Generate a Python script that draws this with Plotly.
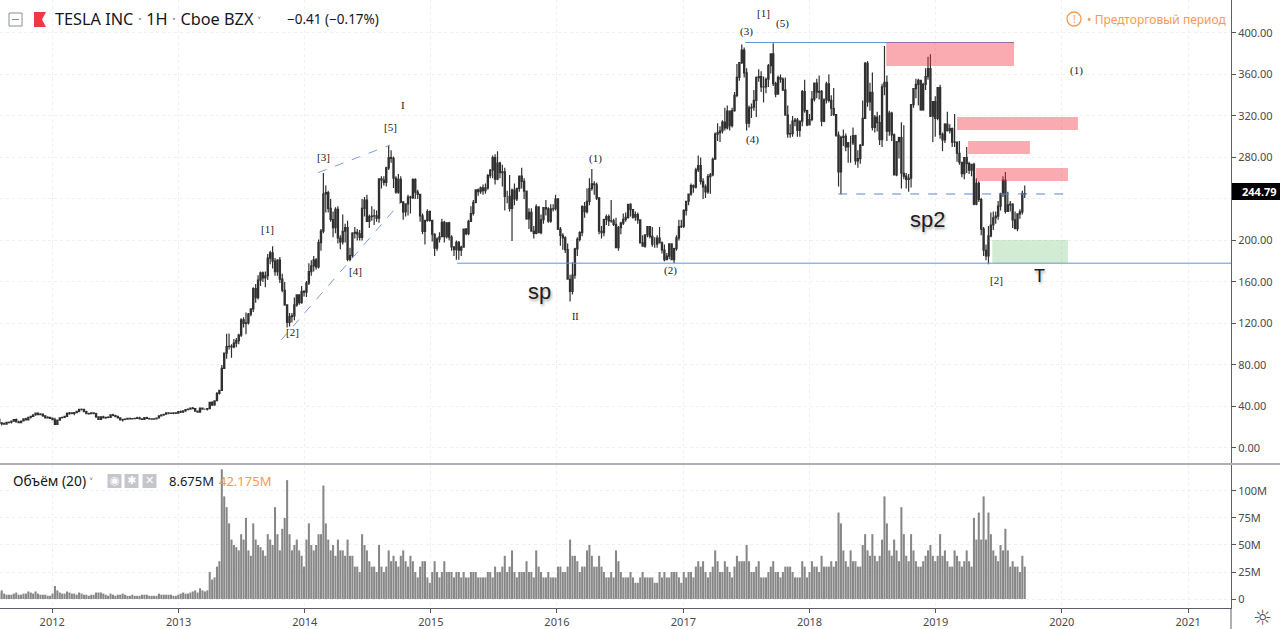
import plotly.graph_objects as go
import pandas as pd

# ---------------- DATA (weekly bars) ----------------
open_px = [
    # 2011
    27.5,24.0,23.5,23.0,24.6,24.8,25.8,27.3,25.0,24.4,26.0,28.0,27.1,29.6,30.5,32.0,33.6,32.0,32.6,31.0,29.0,29.5,
    # 2012
    28.6,27.2,22.8,26.7,29.1,29.5,30.5,33.0,33.8,33.2,34.0,35.3,37.2,37.3,35.0,33.1,33.0,33.8,33.2,30.0,27.6,30.0,29.0,29.6,29.4,32.0,31.3,30.5,29.0,27.0,27.6,27.8,28.6,28.0,28.2,28.5,29.0,28.0,27.6,29.3,28.4,28.0,27.7,28.1,28.9,31.0,31.8,32.5,33.8,33.5,33.3,33.9,33.5,
    # 2013
    35.0,34.5,35.7,37.0,37.5,38.5,38.0,35.6,34.6,38.5,37.3,37.3,37.9,43.9,41.5,45.5,52.5,55.5,76.8,91.5,97.8,98.0,97.5,101.0,103.5,108.7,123.5,120.0,120.5,129.0,134.0,153.5,145.0,161.8,168.8,164.0,166.0,183.0,188.0,180.0,170.0,181.0,162.8,152.0,137.9,121.0,126.5,127.3,138.0,147.7,140.0,151.0,
    # 2014
    150.1,159.0,170.0,175.6,181.4,174.6,198.0,209.0,244.8,246.2,230.9,220.2,212.4,230.0,202.4,198.7,208.9,212.3,181.8,185.5,207.0,207.8,206.4,203.0,231.0,239.0,218.5,223.0,223.6,223.7,221.5,259.3,258.3,256.0,270.0,280.0,279.2,260.0,246.6,259.0,236.9,227.5,235.2,241.7,241.2,258.7,246.7,244.5,223.7,208.7,219.3,227.8,
    # 2015
    219.3,206.0,192.7,201.3,203.6,217.4,203.8,217.1,203.3,193.9,191.1,198.1,190.6,193.5,210.9,206.6,218.4,226.0,236.6,248.8,247.1,250.8,248.0,250.7,262.5,267.7,280.0,259.0,274.7,265.4,266.2,242.5,242.5,230.8,248.5,240.0,250.2,262.0,256.9,247.6,220.7,227.0,209.1,206.9,232.4,207.5,220.0,231.6,230.4,218.6,230.5,230.6,
    # 2016
    240.0,211.0,205.0,202.6,191.2,162.6,151.0,166.6,191.9,201.0,207.5,232.7,227.8,237.6,250.1,254.5,253.7,240.8,208.9,207.6,220.3,223.0,218.9,218.8,215.5,193.2,212.3,216.8,220.4,222.3,234.8,229.7,222.6,225.0,219.8,197.7,194.5,205.4,213.3,204.0,196.5,196.5,202.2,197.7,190.8,181.5,185.0,196.7,181.5,192.2,202.5,213.3,
    # 2017
    213.7,229.0,237.8,244.7,252.9,251.3,268.0,272.2,257.0,251.6,246.9,261.5,263.2,278.3,302.5,304.0,305.6,314.1,308.4,324.8,310.8,325.1,339.9,357.3,371.4,383.5,361.6,313.2,327.8,328.4,335.1,356.9,357.9,348.0,348.1,355.4,368.4,379.8,351.1,341.1,356.9,355.6,345.1,320.9,302.8,302.9,315.1,316.0,306.0,315.1,343.5,325.2,
    # 2018
    311.4,316.6,336.2,351.6,342.9,343.8,315.0,335.5,350.9,335.1,327.2,321.4,301.5,266.1,299.3,300.3,290.2,294.1,294.1,301.1,276.8,278.9,291.8,317.7,370.8,333.6,342.9,308.9,318.9,313.6,297.2,348.2,352.5,305.5,322.8,301.7,263.2,295.2,299.1,264.8,262.0,258.8,260.0,330.9,346.4,350.5,354.3,325.8,350.5,358.0,365.7,319.8,333.9,
    # 2019
    317.7,347.3,302.3,297.0,312.2,305.8,307.9,294.7,294.8,284.1,275.4,264.5,279.9,274.0,267.7,273.3,235.1,255.0,239.5,211.0,190.6,185.2,204.5,214.9,221.9,223.5,233.1,245.0,258.2,228.0,234.3,235.0,219.9,211.4,225.6,227.5,245.2,
]
high_px = [
    # 2011
    28.0,25.0,24.5,25.0,25.5,26.0,27.8,28.5,26.2,26.5,28.5,29.0,29.9,31.0,32.5,34.0,34.0,33.5,33.0,31.5,30.5,29.8,
    # 2012
    29.3,29.0,27.5,29.6,30.0,31.0,34.5,34.6,34.4,34.5,35.5,37.5,38.0,37.7,35.8,34.0,34.3,34.5,34.0,30.5,30.5,31.0,30.0,30.5,32.5,33.0,32.0,31.0,29.5,28.0,28.3,29.0,29.0,28.8,29.0,30.0,30.0,28.5,29.5,30.0,29.0,28.5,28.5,29.0,31.5,32.5,32.8,34.0,34.5,34.0,34.3,34.2,35.5,
    # 2013
    36.0,36.0,37.5,38.0,39.0,39.5,38.5,36.0,39.0,39.0,38.0,38.5,44.5,45.0,46.0,54.0,56.0,80.0,92.0,110.0,110.3,100.0,105.0,106.0,110.0,125.0,126.0,130.5,130.0,134.5,155.0,158.0,166.5,170.0,170.0,170.0,187.0,190.0,194.5,183.0,182.0,184.0,168.0,160.0,138.0,130.0,130.0,145.0,148.0,148.0,156.0,152.0,
    # 2014
    161.0,178.0,181.0,185.0,183.0,201.0,211.0,265.0,253.0,248.0,240.0,228.0,232.0,233.0,205.0,225.0,216.0,219.0,193.0,208.0,213.0,211.0,210.0,240.0,242.0,244.0,225.0,233.0,230.0,229.0,260.0,262.0,262.0,271.0,291.4,287.0,281.0,262.0,264.0,262.0,238.0,236.0,244.0,243.0,260.0,260.0,249.0,245.0,226.0,220.0,230.0,229.0,
    # 2015
    220.0,207.0,203.0,208.0,221.0,219.0,217.0,218.0,205.0,194.0,200.0,199.5,195.0,211.0,212.0,220.0,233.0,239.0,249.0,250.0,252.0,254.0,255.0,264.0,269.0,282.0,283.0,286.0,276.0,273.0,270.0,248.0,263.0,250.0,255.0,250.0,262.0,270.0,260.0,248.0,231.0,231.0,214.0,235.0,233.0,225.0,232.0,239.0,232.0,235.0,235.0,244.0,
    # 2016
    241.0,213.0,207.0,204.0,197.0,167.0,179.0,193.0,203.0,209.0,234.0,237.0,250.0,260.0,269.0,257.0,256.0,242.0,214.0,219.0,225.0,225.0,239.0,221.0,222.0,214.0,218.0,226.0,227.0,235.0,236.0,230.0,228.0,227.0,220.0,205.0,206.0,213.0,214.0,213.0,203.0,205.0,213.0,199.0,196.0,188.0,197.0,197.0,193.0,205.0,220.0,220.0,
    # 2017
    230.0,238.0,245.0,255.0,254.0,270.0,282.0,280.0,260.0,254.0,264.0,265.0,280.0,304.0,313.0,310.0,316.0,328.0,330.0,325.0,328.0,343.0,370.0,372.0,389.0,386.0,366.0,330.0,332.0,345.0,358.0,365.0,363.0,358.0,357.0,370.0,380.0,390.0,353.0,359.0,360.0,357.0,357.0,330.0,312.0,320.0,318.0,318.0,315.0,345.0,355.0,326.0,
    # 2018
    322.0,344.0,352.0,356.0,359.0,345.0,337.0,353.0,360.0,340.0,347.0,322.0,305.0,301.0,307.0,303.0,295.0,301.0,309.0,302.0,287.0,293.0,335.0,372.0,373.0,352.0,362.0,321.0,324.0,321.0,351.0,387.5,359.0,325.0,324.0,303.0,295.0,300.0,314.0,311.0,265.0,264.0,330.0,347.0,356.0,356.0,355.0,352.0,366.0,377.0,379.5,333.0,339.0,
    # 2019
    348.0,350.0,304.0,313.0,324.0,312.0,309.0,322.0,295.0,296.0,276.0,280.0,290.0,276.0,274.0,275.0,260.0,257.0,241.0,213.0,196.0,214.0,227.0,228.0,228.0,238.0,246.0,262.0,266.0,247.0,238.0,236.0,228.0,226.0,230.0,248.0,253.0,
]
low_px = [
    # 2011
    22.5,21.6,22.3,22.8,23.5,23.6,25.2,24.5,24.0,24.0,25.8,26.5,26.8,28.5,30.0,31.0,31.5,31.5,30.0,28.5,28.6,27.9,
    # 2012
    26.9,22.6,22.8,26.4,28.5,29.0,30.2,32.0,32.5,31.5,33.5,34.5,36.0,34.5,32.5,32.0,32.8,32.5,29.0,26.9,27.2,28.5,28.2,28.7,29.2,30.5,29.5,28.5,26.5,25.5,26.8,27.2,27.5,27.4,27.8,28.3,27.5,27.0,27.0,28.0,27.5,27.4,27.2,27.8,28.5,30.5,31.0,32.0,32.5,32.8,32.5,32.8,33.2,
    # 2013
    33.7,34.0,35.0,36.5,37.0,37.5,34.8,34.0,34.5,37.0,36.5,36.0,37.5,40.5,40.8,45.0,51.5,55.0,76.0,86.0,95.0,87.0,96.0,97.0,100.0,107.0,116.0,109.5,119.0,127.0,131.0,140.0,143.0,156.0,160.0,155.0,162.0,177.0,173.0,166.0,166.0,159.0,150.0,137.0,116.1,117.0,121.0,123.0,136.0,138.0,139.0,146.0,
    # 2014
    145.5,157.0,166.0,170.0,172.0,173.0,190.0,207.0,227.0,227.0,218.0,203.0,207.0,197.0,191.5,196.0,198.0,180.0,180.0,183.0,202.0,200.0,200.0,200.0,223.0,218.0,212.0,219.0,215.0,218.0,217.0,250.0,253.0,252.0,268.0,275.0,250.5,245.0,245.0,236.0,220.0,223.0,224.0,226.0,240.0,240.0,240.0,218.0,206.0,196.0,218.0,218.0,
    # 2015
    199.0,185.0,190.0,198.0,203.0,198.0,202.0,200.0,190.0,185.0,181.4,181.4,185.0,193.0,205.0,205.0,218.0,224.0,236.0,243.0,245.0,244.0,245.0,249.0,260.0,260.0,254.0,258.0,260.0,252.0,229.0,236.0,228.0,199.4,234.0,238.0,247.0,250.0,240.0,220.0,211.0,209.0,202.0,206.0,208.0,206.0,216.0,224.0,217.0,217.0,228.0,229.0,
    # 2016
    210.0,195.0,191.0,188.0,162.6,141.1,148.0,163.0,185.0,199.0,204.0,222.0,226.0,234.0,248.0,244.0,239.0,206.0,202.0,204.0,215.0,214.0,217.0,214.0,193.2,190.0,206.0,215.0,218.0,221.0,223.0,221.0,219.0,216.0,197.0,194.0,193.0,203.0,202.0,194.0,193.0,193.0,198.0,187.4,180.0,181.0,182.0,181.0,178.3,190.0,200.0,212.0,
    # 2017
    212.0,224.0,234.0,243.0,246.0,250.0,266.0,254.0,240.0,241.0,245.0,245.0,262.0,279.0,296.0,295.0,303.0,306.0,307.0,306.0,309.0,324.0,338.0,354.0,370.0,357.0,306.0,309.0,318.0,325.0,319.0,353.0,343.0,333.0,342.0,348.0,361.0,349.0,338.0,341.0,352.0,344.0,321.0,299.0,299.0,300.0,310.0,300.0,300.0,310.0,323.0,310.0,
    # 2018
    311.0,315.0,334.0,337.0,336.0,310.0,314.0,332.0,333.0,320.0,320.0,300.0,252.0,244.6,291.0,286.0,275.0,275.0,292.0,273.0,270.0,274.0,291.0,317.0,329.0,325.0,306.0,304.0,305.0,292.0,290.0,340.0,296.0,301.0,296.0,263.0,262.0,279.0,250.0,259.0,250.0,247.0,251.0,328.0,337.0,330.0,325.0,325.0,345.0,355.0,319.0,295.0,300.0,
    # 2019
    316.0,298.0,286.0,294.0,305.0,303.0,290.0,290.0,276.0,273.0,261.0,259.0,265.0,264.0,262.0,234.0,234.0,237.0,205.0,185.0,181.0,177.0,203.0,210.0,216.0,220.0,229.0,242.0,226.0,228.0,228.0,212.0,211.0,209.0,221.0,225.0,241.0,
]
close_px = [
    # 2011
    24.0,23.5,23.0,24.6,24.8,25.8,27.3,25.0,24.4,26.0,28.0,27.1,29.6,30.5,32.0,33.6,32.0,32.6,31.0,29.0,29.5,28.6,
    # 2012
    27.2,22.8,26.7,29.1,29.5,30.5,33.0,33.8,33.2,34.0,35.3,37.2,37.3,35.0,33.1,33.0,33.8,33.2,30.0,27.6,30.0,29.0,29.6,29.4,32.0,31.3,30.5,29.0,27.0,27.6,27.8,28.6,28.0,28.2,28.5,29.0,28.0,27.6,29.3,28.4,28.0,27.7,28.1,28.9,31.0,31.8,32.5,33.8,33.5,33.3,33.9,33.5,35.0,
    # 2013
    34.5,35.7,37.0,37.5,38.5,38.0,35.6,34.6,38.5,37.3,37.3,37.9,43.9,41.5,45.5,52.5,55.5,76.8,91.5,97.8,98.0,97.5,101.0,103.5,108.7,123.5,120.0,120.5,129.0,134.0,153.5,145.0,161.8,168.8,164.0,166.0,183.0,188.0,180.0,170.0,181.0,162.8,152.0,137.9,121.0,126.5,127.3,138.0,147.7,140.0,151.0,150.1,
    # 2014
    159.0,170.0,175.6,181.4,174.6,198.0,209.0,244.8,246.2,230.9,220.2,212.4,230.0,202.4,198.7,208.9,212.3,181.8,185.5,207.0,207.8,206.4,203.0,231.0,239.0,218.5,223.0,223.6,223.7,221.5,259.3,258.3,256.0,270.0,280.0,279.2,260.0,246.6,259.0,236.9,227.5,235.2,241.7,241.2,258.7,246.7,244.5,223.7,208.7,219.3,227.8,219.3,
    # 2015
    206.0,192.7,201.3,203.6,217.4,203.8,217.1,203.3,193.9,191.1,198.1,190.6,193.5,210.9,206.6,218.4,226.0,236.6,248.8,247.1,250.8,248.0,250.7,262.5,267.7,280.0,259.0,274.7,265.4,266.2,242.5,242.5,230.8,248.5,240.0,250.2,262.0,256.9,247.6,220.7,227.0,209.1,206.9,232.4,207.5,220.0,231.6,230.4,218.6,230.5,230.6,240.0,
    # 2016
    211.0,205.0,202.6,191.2,162.6,151.0,166.6,191.9,201.0,207.5,232.7,227.8,237.6,250.1,254.5,253.7,240.8,208.9,207.6,220.3,223.0,218.9,218.8,215.5,193.2,212.3,216.8,220.4,222.3,234.8,229.7,222.6,225.0,219.8,197.7,194.5,205.4,213.3,204.0,196.5,196.5,202.2,197.7,190.8,181.5,185.0,196.7,181.5,192.2,202.5,213.3,213.7,
    # 2017
    229.0,237.8,244.7,252.9,251.3,268.0,272.2,257.0,251.6,246.9,261.5,263.2,278.3,302.5,304.0,305.6,314.1,308.4,324.8,310.8,325.1,339.9,357.3,371.4,383.5,361.6,313.2,327.8,328.4,335.1,356.9,357.9,348.0,348.1,355.4,368.4,379.8,351.1,341.1,356.9,355.6,345.1,320.9,302.8,302.9,315.1,316.0,306.0,315.1,343.5,325.2,311.4,
    # 2018
    316.6,336.2,351.6,342.9,343.8,315.0,335.5,350.9,335.1,327.2,321.4,301.5,266.1,299.3,300.3,290.2,294.1,294.1,301.1,276.8,278.9,291.8,317.7,370.8,333.6,342.9,308.9,318.9,313.6,297.2,348.2,352.5,305.5,322.8,301.7,263.2,295.2,299.1,264.8,262.0,258.8,260.0,330.9,346.4,350.5,354.3,325.8,350.5,358.0,365.7,319.8,333.9,317.7,
    # 2019
    347.3,302.3,297.0,312.2,305.8,307.9,294.7,294.8,284.1,275.4,264.5,279.9,274.0,267.7,273.3,235.1,255.0,239.5,211.0,190.6,185.2,204.5,214.9,221.9,223.5,233.1,245.0,258.2,228.0,234.3,235.0,219.9,211.4,225.6,227.5,245.2,244.79,
]
volume_m = [
    # 2011
    6,8,5,4,4,4,5,6,4,4,5,5,7,6,5,7,5,4,4,4,3,3,
    # 2012
    5,12,8,6,5,5,7,6,5,5,4,6,5,4,4,3,4,4,6,6,6,5,4,3,5,4,3,4,4,5,4,3,3,4,3,3,3,4,4,4,3,3,3,3,5,4,4,4,4,4,3,3,4,
    # 2013
    5,6,5,5,6,7,8,6,10,8,7,8,25,18,20,30,35,120,95,85,70,55,50,48,45,60,55,75,45,40,70,55,50,48,45,40,60,55,50,85,60,45,65,75,110,60,45,50,55,45,40,30,
    # 2014
    55,70,50,45,50,60,60,105,70,55,45,50,40,55,45,45,40,55,40,40,30,30,25,60,50,45,35,30,30,25,50,30,25,30,45,35,40,35,30,40,45,35,30,40,35,25,20,30,35,35,20,15,
    # 2015
    25,35,25,20,25,35,25,25,25,20,25,25,20,25,20,20,25,25,25,20,20,20,20,25,25,20,30,25,25,30,40,25,30,45,25,20,25,25,25,35,25,25,20,45,30,25,20,20,25,20,20,20,
    # 2016
    30,30,25,25,30,55,40,40,35,25,30,30,45,50,40,30,30,40,30,25,20,20,25,20,45,35,25,20,20,20,25,20,15,15,20,25,20,20,20,20,15,15,25,20,25,20,20,25,25,25,20,15,
    # 2017
    25,20,25,25,20,30,35,30,35,25,20,25,30,45,35,25,25,35,30,25,20,30,40,35,35,35,50,35,25,25,30,35,20,20,20,25,30,35,25,25,20,25,30,30,30,25,20,20,20,35,30,20,
    # 2018
    25,35,30,30,25,40,30,30,30,35,30,35,80,70,45,35,30,45,35,35,30,30,50,60,45,40,60,40,35,40,55,95,70,45,40,55,45,35,85,60,40,35,60,45,35,30,30,35,40,45,50,40,35,
    # 2019
    40,60,40,45,35,30,30,45,40,35,30,35,45,35,30,75,55,80,55,95,55,80,60,45,40,35,50,45,65,45,30,35,30,30,25,40,30,
]
weeks = pd.date_range("2011-08-01", periods=len(close_px), freq="W-MON")

year_labels = ["2012", "2013", "2014", "2015", "2016", "2017", "2018", "2019", "2020", "2021"]
price_ticks = [0, 40, 80, 120, 160, 200, 240, 280, 320, 360, 400]
price_tick_text = ["0.00", "40.00", "80.00", "120.00", "160.00", "200.00", "", "280.00", "320.00", "360.00", "400.00"]
vol_ticks = [0, 25, 50, 75, 100]
vol_tick_text = ["0", "25M", "50M", "75M", "100M"]
last_price = 244.79

# ---------------- LAYOUT HELPERS ----------------
W, H = 1280, 629
MR, MB = 49, 21
PW, PH = W - MR, H - MB          # plotting area 1231 x 608


def px(x):
    return x / PW


def py(y):
    return 1 - y / PH


TXT = "#131722"
AX = "#4a4a4a"
ORANGE = "#f59a4f"
BLUE = "#5d95dc"
SERIF = "Liberation Serif"
SANS = "Noto Sans"

fig = go.Figure()
fig.add_trace(go.Candlestick(
    x=weeks, open=open_px, high=high_px, low=low_px, close=close_px,
    increasing=dict(line=dict(color="#303030", width=1.2), fillcolor="#737373"),
    decreasing=dict(line=dict(color="#303030", width=1.2), fillcolor="#737373"),
    whiskerwidth=0, xaxis="x", yaxis="y", showlegend=False, hoverinfo="skip"))
fig.add_trace(go.Bar(
    x=weeks, y=volume_m, marker=dict(color="#878787", line=dict(width=0)),
    xaxis="x", yaxis="y2", showlegend=False, hoverinfo="skip"))

shapes = []
annotations = []


def hline(x0, x1, yv, color=BLUE, dash="solid"):
    shapes.append(dict(type="line", xref="x", yref="y", x0=x0, x1=x1, y0=yv, y1=yv,
                       line=dict(color=color, width=1, dash=dash)))


hline("2015-03-18", "2021-05-05", 178.1)
hline("2017-06-29", "2019-08-16", 390.8)
hline("2018-03-25", "2020-01-13", last_price, color="#5d83d6", dash="dash")
shapes.append(dict(type="line", xref="x", yref="y", x0="2013-10-25", y0=104.1, x1="2014-10-04", y1=236.1,
                   line=dict(color="#7f9bd6", width=1, dash="dash")))
shapes.append(dict(type="line", xref="x", yref="y", x0="2014-02-09", y0=265.4, x1="2014-09-05", y1=292.0,
                   line=dict(color="#7f9bd6", width=1, dash="dash")))

RED = "rgba(242,54,69,0.42)"
for x0, x1, y0, y1 in [("2018-08-11", "2019-08-16", 368.2, 391.3),
                       ("2019-03-04", "2020-02-17", 306.5, 319.0),
                       ("2019-04-05", "2019-10-01", 283.4, 295.9),
                       ("2019-04-28", "2020-01-19", 257.3, 269.9)]:
    shapes.append(dict(type="rect", xref="x", yref="y", x0=x0, x1=x1, y0=y0, y1=y1,
                       fillcolor=RED, line=dict(width=0), layer="above"))
shapes.append(dict(type="rect", xref="x", yref="y", x0="2019-06-14", x1="2020-01-19", y0=178.3, y1=200.5,
                   fillcolor="rgba(76,175,80,0.25)", line=dict(width=0), layer="above"))

# wave labels
for txt, d, p, size in [("[1]", "2013-09-15", 211, 11), ("[2]", "2013-11-28", 111.8, 11),
                        ("[3]", "2014-02-23", 280.5, 11), ("[4]", "2014-05-27", 170.6, 11),
                        ("[5]", "2014-09-05", 309.4, 11), ("I", "2014-10-12", 330.6, 11),
                        ("II", "2016-02-25", 127.2, 10), ("(1)", "2016-04-22", 279.5, 11),
                        ("(2)", "2016-11-26", 170.6, 11), ("(3)", "2017-07-04", 401.9, 11),
                        ("[1]", "2017-08-22", 419.3, 11), ("(5)", "2017-10-16", 409.6, 11),
                        ("(4)", "2017-07-19", 296.9, 11), ("[2]", "2019-06-27", 161.9, 11),
                        ("(1)", "2020-02-14", 364.3, 11)]:
    annotations.append(dict(text=txt, x=d, y=p, xref="x", yref="y", showarrow=False,
                            font=dict(family=SERIF, size=size, color="#1a1a1a")))
for txt, d, p, size in [("sp", "2015-11-12", 150.4, 22), ("sp2", "2018-12-09", 220.7, 22),
                        ("T", "2019-10-30", 165.8, 18)]:
    annotations.append(dict(text=txt, x=d, y=p, xref="x", yref="y", showarrow=False,
                            font=dict(family="Liberation Sans", size=size, color="#1e1e1e",
                                      shadow="1px 2px 3px rgba(0,0,0,0.35)")))

# --- pane separators / frame ---
shapes.append(dict(type="line", xref="paper", yref="paper", x0=0, x1=px(W), y0=py(464), y1=py(464),
                   line=dict(color="#5d606b", width=1)))
shapes.append(dict(type="line", xref="paper", yref="paper", x0=1, x1=1, y0=py(608), y1=py(H),
                   line=dict(color="#5d606b", width=1)))

# --- header ---
shapes.append(dict(type="rect", xref="paper", yref="paper", x0=px(9), x1=px(22), y0=py(26), y1=py(13),
                   line=dict(color="#8a8d96", width=1), fillcolor="white"))
shapes.append(dict(type="line", xref="paper", yref="paper", x0=px(12), x1=px(19), y0=py(19.5), y1=py(19.5),
                   line=dict(color="#8a8d96", width=1)))
fx0, fx1, fy0, fy1 = px(34), px(46), py(27), py(12)
shapes.append(dict(type="path", xref="paper", yref="paper",
                   path=f"M {fx0},{fy0} L {fx0},{fy1} L {fx1},{fy1} L {px(42)},{py(19.5)} L {fx1},{fy0} Z",
                   fillcolor="#f23645", line=dict(width=0)))
annotations.append(dict(text="TESLA INC <span style='color:#9598a1'>·</span> 1H <span style='color:#9598a1'>·</span> Cboe BZX <span style='font-size:11px'>˅</span>",
                        x=px(53), y=py(19), xref="paper", yref="paper", xanchor="left", yanchor="middle",
                        showarrow=False, font=dict(family=SANS, size=16.3, color=TXT)))
annotations.append(dict(text="−0.41 (−0.17%)", x=px(285), y=py(19), xref="paper", yref="paper",
                        xanchor="left", yanchor="middle", showarrow=False,
                        font=dict(family=SANS, size=13.5, color=TXT)))
shapes.append(dict(type="circle", xref="paper", yref="paper", x0=px(1067), x1=px(1081), y0=py(26), y1=py(12),
                   line=dict(color=ORANGE, width=1.3)))
annotations.append(dict(text="!", x=px(1074), y=py(19), xref="paper", yref="paper", showarrow=False,
                        xanchor="center", yanchor="middle",
                        font=dict(family=SANS, size=10, color=ORANGE)))
annotations.append(dict(text="• Предторговый период", x=px(1085), y=py(19), xref="paper", yref="paper",
                        xanchor="left", yanchor="middle", showarrow=False,
                        font=dict(family=SANS, size=12, color=ORANGE)))

# --- last price label ---
shapes.append(dict(type="rect", xref="paper", yref="paper", x0=px(1232), x1=px(1280), y0=py(200), y1=py(183),
                   fillcolor="#000000", line=dict(width=0), layer="above"))
annotations.append(dict(text=f"<b>{last_price:.2f}</b>", x=px(1240), y=py(191.5), xref="paper", yref="paper",
                        xanchor="left", yanchor="middle", showarrow=False,
                        font=dict(family=SANS, size=11, color="white")))

# --- volume header ---
annotations.append(dict(text="Объём (20) <span style='font-size:10px'>˅</span>", x=px(11), y=py(481),
                        xref="paper", yref="paper", xanchor="left", yanchor="middle", showarrow=False,
                        font=dict(family=SANS, size=13.8, color=TXT)))
for cx, glyph in [(114.5, "◉"), (131.5, "✱"), (149.5, "✕")]:
    shapes.append(dict(type="rect", xref="paper", yref="paper", x0=px(cx - 7), x1=px(cx + 7),
                       y0=py(488), y1=py(474), fillcolor="#c4c6cc", line=dict(width=0)))
    annotations.append(dict(text=f"<b>{glyph}</b>", x=px(cx), y=py(481), xref="paper", yref="paper",
                            showarrow=False, xanchor="center", yanchor="middle",
                            font=dict(family="DejaVu Sans", size=11, color="#ffffff")))
annotations.append(dict(text="8.675M", x=px(167), y=py(481), xref="paper", yref="paper", xanchor="left",
                        yanchor="middle", showarrow=False, font=dict(family=SANS, size=13, color=TXT)))
annotations.append(dict(text="42.175M", x=px(217), y=py(481), xref="paper", yref="paper", xanchor="left",
                        yanchor="middle", showarrow=False, font=dict(family=SANS, size=13, color=ORANGE)))

# gear
annotations.append(dict(text="☼", x=px(1262), y=py(618), xref="paper", yref="paper", showarrow=False,
                        xanchor="center", yanchor="middle",
                        font=dict(family="DejaVu Sans", size=21, color="#555")))

grid = dict(showgrid=True, gridcolor="#eef0f3", griddash="dot", gridwidth=1)
fig.update_layout(
    width=W, height=H,
    margin=dict(l=0, r=MR, t=0, b=MB),
    paper_bgcolor="white", plot_bgcolor="white",
    showlegend=False, bargap=0.15, hovermode=False,
    xaxis=dict(domain=[0, 1], anchor="y2", type="date", range=["2011-08-03", "2021-05-05"],
               tickvals=[f"{y}-01-01" for y in year_labels], ticktext=year_labels,
               ticks="outside", ticklen=4, tickcolor="#555", showline=True, linecolor="#5d606b",
               tickfont=dict(family=SANS, size=11, color=AX), rangeslider=dict(visible=False),
               zeroline=False, **grid),
    yaxis=dict(domain=[py(463), 1], anchor="x", side="right", range=[-14.5, 431.8],
               tickvals=price_ticks, ticktext=price_tick_text, ticks="outside", ticklen=4, tickcolor="#555",
               showline=True, linecolor="#5d606b", tickfont=dict(family=SANS, size=11, color=AX),
               zeroline=False, **grid),
    yaxis2=dict(domain=[0, py(465)], anchor="x", side="right", range=[-8.3, 124],
                tickvals=vol_ticks, ticktext=vol_tick_text, ticks="outside", ticklen=4, tickcolor="#555",
                showline=True, linecolor="#5d606b", tickfont=dict(family=SANS, size=11, color=AX),
                zeroline=False, **grid),
    shapes=shapes, annotations=annotations,
)

fig.write_html("out.html", config={"displayModeBar": False},
               post_script="document.body.style.margin='0';document.body.style.overflow='hidden';")
